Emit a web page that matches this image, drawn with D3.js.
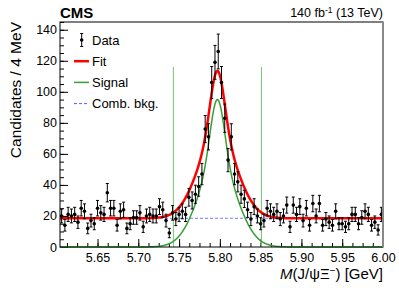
<!DOCTYPE html>
<html>
<head>
<meta charset="utf-8">
<script src="https://cdn.jsdelivr.net/npm/d3@7"></script>
<style>
  html, body { margin: 0; padding: 0; background: #fff; }
  svg { display: block; font-family: "Liberation Sans", Arial, sans-serif; }
</style>
</head>
<body>
<svg id="chart" width="399" height="288"></svg>
<script>
// 4 MeV bins, first bin starts at 5.604 GeV
const binStart = 5.604;
const binWidth = 0.004;
const counts = [
  20, 14, 21, 20, 21, 16, 25, 23, 12, 17,
  15, 25, 22, 21, 35, 25, 25, 14, 23, 24,
  12, 15, 19, 19, 22, 13, 20, 21, 20, 20,
  26, 24, 17, 9, 22, 18, 21, 23, 21, 32,
  30, 34, 39, 47, 76, 71, 106, 119, 126, 106,
  83, 56, 71, 47, 42, 34, 31, 24, 18, 26,
  20, 15, 17, 25, 23, 21, 23, 18, 20, 27,
  13, 27, 21, 26, 17, 25, 14, 28, 20, 28,
  14, 18, 16, 14, 23, 15, 15, 13, 15, 21,
  21, 15, 19, 23, 21, 14, 16, 11, 21
];

const xTicks = [5.65, 5.70, 5.75, 5.80, 5.85, 5.90, 5.95, 6.00];
const yTicks = [0, 20, 40, 60, 80, 100, 120, 140];

// fit model: double gaussian signal + flat combinatorial background
const peakMass = 5.797;
const coreAmp = 41;
const coreSigma = 0.0085;
const tailAmp = 54;
const tailSigma = 0.0233;
const bkgLevel = 18.5;

// signal window markers
const windowEdges = [5.743, 5.851];
const windowTop = 116;

const legendItems = [
  { label: 'Data', type: 'data' },
  { label: 'Fit', type: 'line', color: '#ff0000', width: 2.5 },
  { label: 'Signal', type: 'line', color: '#35a035', width: 1.5 },
  { label: 'Comb. bkg.', type: 'line', color: '#5a5aff', width: 1, dash: '3,2' }
];

class MassFitChart {
  constructor(svgId) {
    this.svg = d3.select(svgId);
    this.left = 60;
    this.right = 383;
    this.top = 22;
    this.bottom = 247;

    this.x = d3.scaleLinear().domain([binStart, 6.0]).range([this.left, this.right]);
    this.y = d3.scaleLinear().domain([0, 145]).range([this.bottom, this.top]);

    this.drawAxes();
    this.drawCurves();
    this.drawData();
    this.drawFrame();
    this.drawLegend();
    this.drawTexts();
  }

  signal(m) {
    const d = m - peakMass;
    return coreAmp * Math.exp(-d * d / (2 * coreSigma * coreSigma)) +
      tailAmp * Math.exp(-d * d / (2 * tailSigma * tailSigma));
  }

  drawAxes() {
    const minorX = d3.range(5.6125, 6.0001, 0.0125).filter(v => v >= binStart);
    const minorY = d3.range(0, 146, 5);

    this.svg.append('g')
      .attr('transform', `translate(0,${this.bottom})`)
      .call(d3.axisBottom(this.x).tickValues(minorX).tickSize(-4).tickFormat(''))
      .call(g => g.select('.domain').remove());

    const xAxis = this.svg.append('g')
      .attr('transform', `translate(0,${this.bottom})`)
      .call(d3.axisBottom(this.x).tickValues(xTicks).tickSize(-8).tickPadding(6.5)
        .tickFormat(d3.format('.2f')))
      .call(g => g.select('.domain').remove());
    xAxis.selectAll('text').attr('font-size', 12.5).attr('fill', '#000')
      .attr('font-family', '"Liberation Sans", Arial, sans-serif');

    this.svg.append('g')
      .attr('transform', `translate(${this.left},0)`)
      .call(d3.axisLeft(this.y).tickValues(minorY).tickSize(-4).tickFormat(''))
      .call(g => g.select('.domain').remove());

    const yAxis = this.svg.append('g')
      .attr('transform', `translate(${this.left},0)`)
      .call(d3.axisLeft(this.y).tickValues(yTicks).tickSize(-8).tickPadding(3))
      .call(g => g.select('.domain').remove());
    yAxis.selectAll('text').attr('font-size', 12.5).attr('fill', '#000')
      .attr('font-family', '"Liberation Sans", Arial, sans-serif');
  }

  drawCurves() {
    const masses = d3.range(binStart, 6.0005, 0.0005);
    const line = d3.line().x(d => this.x(d[0])).y(d => this.y(d[1]));

    this.svg.append('path')
      .datum(masses.map(m => [m, bkgLevel]))
      .attr('d', line)
      .attr('fill', 'none')
      .attr('stroke', legendItems[3].color)
      .attr('stroke-width', 1)
      .attr('stroke-dasharray', '3,2');

    this.svg.selectAll('.window')
      .data(windowEdges)
      .enter()
      .append('line')
      .attr('x1', d => this.x(d))
      .attr('x2', d => this.x(d))
      .attr('y1', this.y(0))
      .attr('y2', this.y(windowTop))
      .attr('stroke', '#72c872')
      .attr('stroke-width', 1);

    this.svg.append('path')
      .datum(masses.map(m => [m, this.signal(m)]))
      .attr('d', line)
      .attr('fill', 'none')
      .attr('stroke', legendItems[2].color)
      .attr('stroke-width', 1.5);

    this.svg.append('path')
      .datum(masses.map(m => [m, this.signal(m) + bkgLevel]))
      .attr('d', line)
      .attr('fill', 'none')
      .attr('stroke', legendItems[1].color)
      .attr('stroke-width', 2.5);
  }

  drawData() {
    const points = counts.map((n, i) => ({
      m: binStart + binWidth * (i + 0.5),
      n: n,
      err: Math.sqrt(n)
    }));

    const g = this.svg.append('g').attr('class', 'data');
    const pt = g.selectAll('g').data(points).enter().append('g');

    pt.append('line')
      .attr('x1', d => this.x(d.m)).attr('x2', d => this.x(d.m))
      .attr('y1', d => this.y(d.n - d.err)).attr('y2', d => this.y(d.n + d.err))
      .attr('stroke', '#000').attr('stroke-width', 1);

    [-1, 1].forEach(s => {
      pt.append('line')
        .attr('x1', d => this.x(d.m) - 1.5).attr('x2', d => this.x(d.m) + 1.5)
        .attr('y1', d => this.y(d.n + s * d.err)).attr('y2', d => this.y(d.n + s * d.err))
        .attr('stroke', '#000').attr('stroke-width', 1);
    });

    pt.append('circle')
      .attr('cx', d => this.x(d.m))
      .attr('cy', d => this.y(d.n))
      .attr('r', 1.8)
      .attr('fill', '#000');
  }

  drawFrame() {
    this.svg.append('rect')
      .attr('x', this.left).attr('y', this.top)
      .attr('width', this.right - this.left).attr('height', this.bottom - this.top)
      .attr('fill', 'none').attr('stroke', '#000').attr('stroke-width', 1);

    this.svg.append('line')
      .attr('x1', this.right).attr('x2', this.right)
      .attr('y1', this.top).attr('y2', this.bottom)
      .attr('stroke', '#888').attr('stroke-width', 2);
  }

  drawLegend() {
    const legend = this.svg.append('g').attr('transform', 'translate(74, 40)');

    legendItems.forEach((item, i) => {
      const y = i * 21.2;
      if (item.type === 'data') {
        legend.append('line').attr('x1', 7.7).attr('x2', 7.7).attr('y1', y - 6.5).attr('y2', y + 6.5)
          .attr('stroke', '#000');
        [-6.5, 6.5].forEach(dy => {
          legend.append('line').attr('x1', 6.2).attr('x2', 9.2).attr('y1', y + dy).attr('y2', y + dy)
            .attr('stroke', '#000');
        });
        legend.append('circle').attr('cx', 7.7).attr('cy', y).attr('r', 1.8).attr('fill', '#000');
      } else {
        legend.append('line')
          .attr('x1', 0).attr('x2', 15).attr('y1', y).attr('y2', y)
          .attr('stroke', item.color)
          .attr('stroke-width', item.width)
          .attr('stroke-dasharray', item.dash || null);
      }
      legend.append('text')
        .attr('x', 18).attr('y', y).attr('dy', '0.35em')
        .attr('font-size', 13)
        .text(item.label);
    });
  }

  drawTexts() {
    this.svg.append('text')
      .attr('x', this.left).attr('y', 18)
      .attr('font-size', 15).attr('font-weight', 'bold')
      .text('CMS');

    const lumi = this.svg.append('text')
      .attr('x', this.right).attr('y', 17)
      .attr('text-anchor', 'end')
      .attr('font-size', 12.5);
    lumi.append('tspan').text('140 fb');
    lumi.append('tspan').attr('dy', -4.5).attr('font-size', 8.5).text('-1');
    lumi.append('tspan').attr('dy', 4.5).text(' (13 TeV)');

    this.svg.append('text')
      .attr('transform', 'translate(21, 22) rotate(-90)')
      .attr('text-anchor', 'end')
      .attr('font-size', 15.5)
      .text('Candidates / 4 MeV');

    const xt = this.svg.append('text')
      .attr('x', this.right).attr('y', 279)
      .attr('text-anchor', 'end')
      .attr('font-size', 15);
    xt.append('tspan').attr('font-style', 'italic').text('M');
    xt.append('tspan').text('(J/ψΞ');
    xt.append('tspan').attr('dy', -5.5).attr('font-size', 10).text('−');
    xt.append('tspan').attr('dy', 5.5).text(') [GeV]');
  }
}

new MassFitChart('#chart');
</script>
</body>
</html>
